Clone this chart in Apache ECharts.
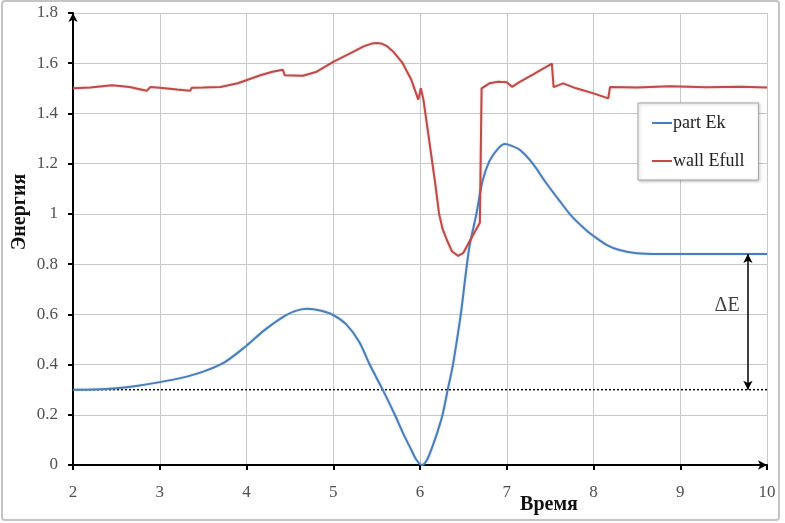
<!DOCTYPE html>
<html>
<head>
<meta charset="utf-8">
<script src="https://cdn.jsdelivr.net/npm/echarts@6/dist/echarts.min.js"></script>
<style>html,body{margin:0;padding:0;background:#fff;}#c{width:785px;height:523px;}</style>
</head>
<body>
<div id="c"></div>
<script>
var xTicks = [2, 3, 4, 5, 6, 7, 8, 9, 10];
var yTicks = [0, 0.2, 0.4, 0.6, 0.8, 1, 1.2, 1.4, 1.6, 1.8];
var seriesNames = ['part Ek', 'wall Efull'];

var partEk = [
  [2.0,0.300],[2.25,0.301],[2.5,0.306],[2.75,0.316],[3.0,0.330],[3.25,0.347],[3.5,0.372],[3.75,0.41],
  [4.0,0.475],[4.2,0.535],[4.4,0.585],[4.55,0.612],[4.7,0.622],[4.85,0.615],[5.0,0.597],[5.15,0.56],
  [5.3,0.49],[5.42,0.4],[5.57,0.3],[5.71,0.2],[5.8,0.13],[5.9,0.06],[5.96,0.02],[6.02,0.0],[6.08,0.02],
  [6.15,0.08],[6.2,0.13],[6.26,0.2],[6.32,0.3],[6.38,0.4],[6.47,0.6],[6.52,0.74],[6.57,0.87],[6.65,1.0],
  [6.72,1.13],[6.8,1.21],[6.9,1.26],[6.98,1.278],[7.05,1.272],[7.15,1.255],[7.3,1.2],[7.45,1.125],
  [7.6,1.056],[7.75,0.99],[7.9,0.94],[8.0,0.912],[8.15,0.877],[8.3,0.856],[8.5,0.843],[8.75,0.84],
  [9.0,0.84],[9.5,0.84],[10.0,0.84]
];

var wallEfull = [
  [2.0,1.500],[2.2,1.503],[2.45,1.512],[2.65,1.505],[2.85,1.490],[2.87,1.488],[2.89,1.505],[3.0,1.502],
  [3.2,1.495],[3.35,1.490],[3.37,1.502],[3.5,1.503],[3.7,1.505],[3.9,1.52],[4.16,1.552],[4.3,1.566],
  [4.42,1.574],[4.44,1.552],[4.65,1.55],[4.8,1.565],[5.0,1.605],[5.2,1.64],[5.35,1.667],[5.45,1.679],
  [5.5,1.681],[5.55,1.679],[5.62,1.668],[5.69,1.647],[5.8,1.6],[5.9,1.534],[5.98,1.455],[6.01,1.50],
  [6.04,1.454],[6.17,1.135],[6.22,1.0],[6.26,0.94],[6.31,0.896],[6.37,0.85],[6.44,0.833],[6.5,0.845],
  [6.58,0.896],[6.69,0.965],[6.71,1.5],[6.8,1.52],[6.9,1.526],[7.0,1.524],[7.06,1.506],[7.15,1.526],
  [7.3,1.555],[7.52,1.598],[7.54,1.505],[7.65,1.52],[7.8,1.5],[8.0,1.48],[8.17,1.46],[8.19,1.505],
  [8.5,1.503],[8.88,1.508],[9.3,1.504],[9.7,1.506],[10.0,1.503]
];

var baseLine = [[2, 0.3], [10, 0.3]];
var deltaArrow = [[9.78, 0.3], [9.78, 0.84]];
var deltaLabel = [[9.54, 0.633]];

var serif = '"Liberation Serif", "Times New Roman", serif';
var chart = echarts.init(document.getElementById('c'), null, {renderer: 'canvas'});
chart.setOption({
  animation: false,
  backgroundColor: '#ffffff',
  grid: {left: 73, right: 18, top: 13, bottom: 58},
  xAxis: {
    type: 'value', min: xTicks[0], max: xTicks[xTicks.length - 1], interval: 1,
    axisLine: {lineStyle: {color: '#000', width: 2}, symbol: ['none', 'arrow'], symbolSize: [7, 9]},
    axisTick: {show: true, length: 5, lineStyle: {color: '#000', width: 2}},
    axisLabel: {fontFamily: serif, fontSize: 17, color: '#505050', margin: 19},
    splitLine: {show: true, lineStyle: {color: '#c8c8c8', width: 1}}
  },
  yAxis: {
    type: 'value', min: yTicks[0], max: yTicks[yTicks.length - 1], interval: 0.2,
    axisLine: {lineStyle: {color: '#000', width: 2}, symbol: ['none', 'arrow'], symbolSize: [7, 9]},
    axisTick: {show: true, length: 5, lineStyle: {color: '#000', width: 2}},
    axisLabel: {fontFamily: serif, fontSize: 17, color: '#505050', margin: 15},
    splitLine: {show: true, lineStyle: {color: '#c8c8c8', width: 1}}
  },
  legend: {
    data: seriesNames,
    orient: 'vertical',
    left: 638, top: 103,
    padding: [10, 14, 9, 14],
    itemGap: 18,
    itemWidth: 20, itemHeight: 2,
    icon: 'rect',
    borderColor: '#a6a6a6', borderWidth: 1,
    backgroundColor: '#fff',
    shadowColor: 'rgba(0,0,0,0.25)', shadowBlur: 3, shadowOffsetX: 1, shadowOffsetY: 1,
    textStyle: {fontFamily: serif, fontSize: 18, color: '#222', lineHeight: 20, padding: [0, 0, 0, -4]}
  },
  series: [
    {
      name: 'baseline', type: 'line', data: baseLine, symbol: 'none', silent: true,
      lineStyle: {color: '#000', width: 1.5, type: [2, 2]}, z: 1,
      markLine: {
        silent: true, symbol: ['arrow', 'arrow'], symbolSize: [7, 9],
        lineStyle: {color: '#000', width: 1.5, type: 'solid'},
        label: {show: false},
        data: [[{coord: deltaArrow[0]}, {coord: deltaArrow[1]}]]
      }
    },
    {
      name: 'dE', type: 'scatter', data: deltaLabel, symbolSize: 0, silent: true,
      label: {show: true, position: 'inside', formatter: 'ΔE', fontFamily: serif, fontSize: 20, color: '#111'}
    },
    {
      name: seriesNames[0], type: 'line', data: partEk, symbol: 'none', smooth: 0.3,
      lineStyle: {color: '#4a7ebb', width: 2, shadowColor: 'rgba(74,126,187,0.35)', shadowBlur: 2},
      itemStyle: {color: '#4a7ebb'}, z: 3
    },
    {
      name: seriesNames[1], type: 'line', data: wallEfull, symbol: 'none', smooth: false,
      lineStyle: {color: '#be4b48', width: 2, shadowColor: 'rgba(190,75,72,0.35)', shadowBlur: 2},
      itemStyle: {color: '#be4b48'}, z: 4
    }
  ],
  graphic: [
    {type: 'rect', shape: {x: 2, y: 1, width: 777, height: 519, r: 3}, style: {fill: 'none', stroke: '#c4c4c4', lineWidth: 2}, z: -1, silent: true},
    {type: 'text', x: 20, y: 212, rotation: Math.PI / 2,
     style: {text: 'Энергия', font: 'bold 20px ' + serif, fill: '#111', align: 'center', verticalAlign: 'middle'}},
    {type: 'text', x: 549, y: 505,
     style: {text: 'Время', font: 'bold 20px ' + serif, fill: '#111', align: 'center', verticalAlign: 'middle'}}
  ]
});
</script>
</body>
</html>
